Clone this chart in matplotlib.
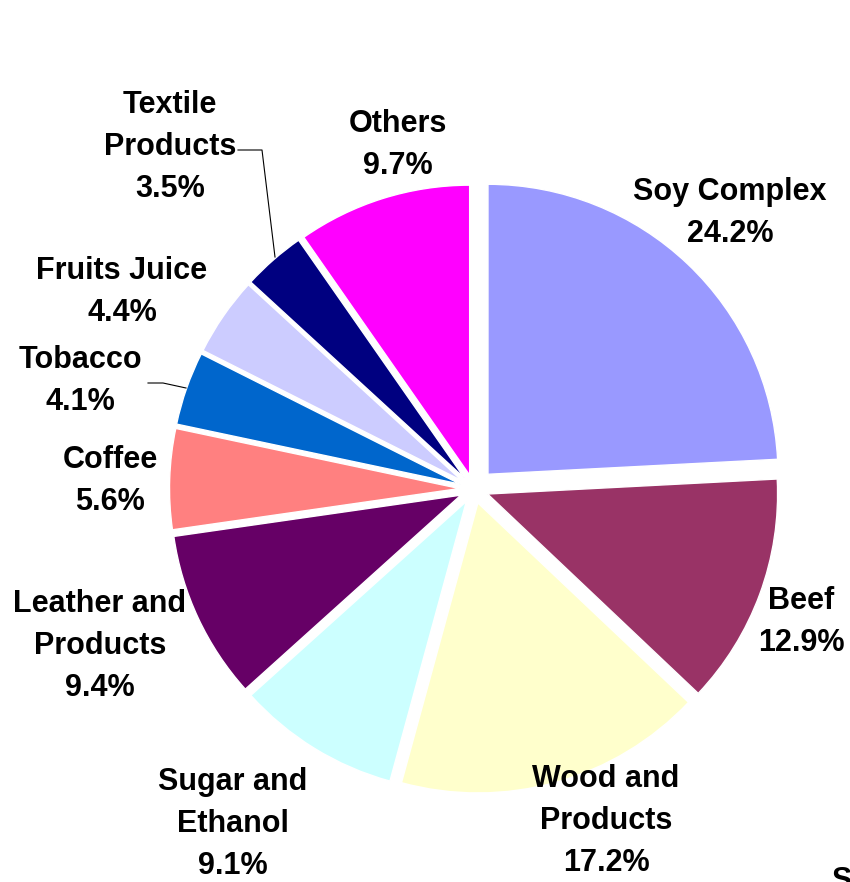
import matplotlib
matplotlib.use('Agg')
import matplotlib.pyplot as plt

plt.rcParams['font.family'] = ['Liberation Sans', 'DejaVu Sans']

# shares of exports, clockwise from 12 o'clock
products = ['Soy Complex', 'Beef', 'Wood and\nProducts', 'Sugar and\nEthanol',
            'Leather and\nProducts', 'Coffee', 'Tobacco', 'Fruits Juice',
            'Textile\nProducts', 'Others']
shares = [24.2, 12.9, 17.2, 9.1, 9.4, 5.6, 4.1, 4.4, 3.5, 9.7]
colors = ['#9999FF', '#993366', '#FFFFCC', '#CCFFFF', '#660066',
          '#FF8080', '#0066CC', '#CCCCFF', '#000080', '#FF00FF']

W, H = 850, 882
R = 290


def px(x, y):
    # pixel (top-left origin) -> data coords
    return x, H - y


# label block centres, in pixels
label_pos = [(730, 213), (801, 622), (606, 821), (233, 824), (100, 646),
             (110, 481), (80, 381), (122, 292), (170, 147), (398, 145)]

fig = plt.figure(figsize=(W / 100, H / 100), dpi=100)
ax = fig.add_axes([0, 0, 1, 1])

# explode is in data units here (radius is in pixels)
explode = [0.07 * R] + [0.05 * R] * (len(shares) - 1)
ax.pie(shares, colors=colors, startangle=90, counterclock=False,
       explode=explode, radius=R, center=px(474, 489),
       wedgeprops=dict(edgecolor='white', linewidth=1))

for name, val, (x, y) in zip(products, shares, label_pos):
    ax.text(*px(x, y), f'{name}\n{val:.1f}%', ha='center', va='center',
            fontsize=22, fontweight='bold', linespacing=1.53)

# leader lines
xs, ys = zip(*[px(238, 150), px(262, 150), px(275, 257)])
ax.plot(xs, ys, color='black', lw=0.8)
xs, ys = zip(*[px(148, 383), px(163, 383), px(186, 388)])
ax.plot(xs, ys, color='black', lw=0.8)

# source note, cut off at the corner as in the original
ax.text(*px(832, 866), 'Source: SECEX', ha='left', va='top',
        fontsize=22, fontweight='bold')

ax.set_xlim(0, W)
ax.set_ylim(0, H)
ax.set_aspect('equal')
ax.axis('off')

fig.savefig('out.png', dpi=100)
